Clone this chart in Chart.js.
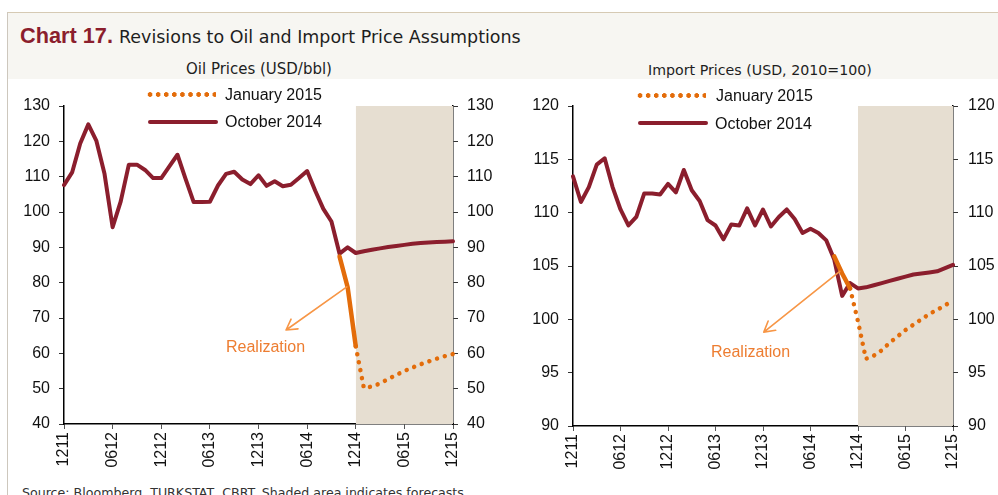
<!DOCTYPE html>
<html><head><meta charset="utf-8">
<script src="https://cdn.jsdelivr.net/npm/chart.js@4.4.1/dist/chart.umd.min.js"></script>
<style>
html,body{margin:0;padding:0;background:#fff;width:998px;height:495px;overflow:hidden;position:relative;font-family:"Liberation Sans",Arial,sans-serif;}
.abs{position:absolute;white-space:nowrap;}
#band{left:7px;top:12px;width:991px;height:67px;background:#f7f6f2;border-top:1px solid #d6cab4;box-sizing:border-box;}
#vline{left:7px;top:12px;width:1px;height:483px;background:#cdc7bd;}
.cg{font-family:"DejaVu Sans",sans-serif;color:#1e1e1e;display:inline-block;}
.leg{font-size:16px;color:#111;line-height:18px;}
.real{font-size:16px;color:#ED7D31;line-height:18px;}
.solid{height:4px;border-radius:2px;background:#8B1E2D;}
.dots{height:5px;background:radial-gradient(circle,#E36C0A 2.1px,rgba(227,108,10,0) 2.6px) 0 0/8.1px 5px repeat-x;}
canvas{position:absolute;}
</style></head>
<body>
<div id="band" class="abs"></div>
<div id="vline" class="abs"></div>
<div class="abs" style="left:20px;top:24px;line-height:24px;">
  <span id="t1" style="font-weight:bold;font-size:21px;color:#8B1E2D;display:inline-block;" data-fit="93">Chart 17.</span><span id="t2" class="cg" style="font-size:17px;margin-left:6px;" data-fit="402">Revisions to Oil and Import Price Assumptions</span>
</div>
<div class="abs cg" id="s1" style="left:186px;top:60px;font-size:14px;line-height:18px;" data-fit="146">Oil Prices (USD/bbl)</div>
<div class="abs cg" id="s2" style="left:648px;top:61px;font-size:14px;line-height:18px;" data-fit="224">Import Prices (USD, 2010=100)</div>

<canvas id="oil" width="492" height="400" style="left:8px;top:80px;"></canvas>
<canvas id="imp" width="488" height="400" style="left:510px;top:80px;"></canvas>

<!-- legends -->
<div class="abs dots" style="left:146px;top:92px;width:70px;"></div>
<div class="abs leg" style="left:225px;top:86px;" id="l1a"></div>
<div class="abs solid" style="left:148px;top:120px;width:70px;"></div>
<div class="abs leg" style="left:225px;top:113px;" id="l1b"></div>

<div class="abs dots" style="left:636px;top:93px;width:70px;"></div>
<div class="abs leg" style="left:716px;top:87px;" id="l2a"></div>
<div class="abs solid" style="left:638px;top:121px;width:70px;"></div>
<div class="abs leg" style="left:715px;top:115px;" id="l2b"></div>

<div class="abs real" style="left:226px;top:338px;">Realization</div>
<div class="abs real" style="left:711px;top:343px;">Realization</div>

<div class="abs cg" id="src" style="left:22px;top:485px;font-size:13px;line-height:16px;color:#333;" data-fit="446">Source: Bloomberg, TURKSTAT, CBRT. Shaded area indicates forecasts.</div>

<script>
// ---------------- DATA ----------------
const months = ["1211","0112","0212","0312","0412","0512","0612","0712","0812","0912","1012","1112",
  "1212","0113","0213","0313","0413","0513","0613","0713","0813","0913","1013","1113",
  "1213","0114","0214","0314","0414","0514","0614","0714","0814","0914","1014","1114",
  "1214","0115","0215","0315","0415","0515","0615","0715","0815","0915","1015","1115","1215"];
const tickLabels = ["1211","0612","1212","0613","1213","0614","1214","0615","1215"];
const forecastStart = "1214";
const seriesNames = ["January 2015","October 2014","Realization"];

// Oil prices (USD/bbl)
const oilOct2014 = [107.6,111.2,119.4,124.8,120.1,110.8,95.7,103.0,113.4,113.4,111.9,109.6,
  109.6,112.9,116.2,109.4,102.8,102.8,102.9,107.5,110.8,111.4,109.2,107.9,
  110.4,107.4,108.7,107.3,107.7,109.6,111.6,106.0,100.9,97.3,88.2,90.0,
  88.4,88.9,89.3,89.7,90.1,90.4,90.7,91.0,91.2,91.4,91.5,91.6,91.7];
const oilRealization = [null,null,null,null,null,null,null,null,null,null,null,null,
  null,null,null,null,null,null,null,null,null,null,null,null,
  null,null,null,null,null,null,null,null,null,null,87.4,78.7,
  62.0,null,null,null,null,null,null,null,null,null,null,null,null];
const oilJan2015 = [null,null,null,null,null,null,null,null,null,null,null,null,
  null,null,null,null,null,null,null,null,null,null,null,null,
  null,null,null,null,null,null,null,null,null,null,null,null,
  62.0,50.2,50.6,51.5,52.7,53.9,55.0,56.0,56.9,57.7,58.5,59.2,59.8];
const oilAxis = {min:40, max:130, step:10};

// Import prices (USD, 2010=100)
const impOct2014 = [113.4,111.0,112.4,114.5,115.1,112.4,110.3,108.8,109.6,111.8,111.8,111.7,
  112.7,111.9,114.0,112.1,111.1,109.3,108.8,107.5,108.9,108.8,110.4,108.8,
  110.3,108.7,109.6,110.3,109.4,108.1,108.5,108.1,107.4,105.6,102.2,103.4,
  102.9,103.0,103.2,103.4,103.6,103.8,104.0,104.2,104.3,104.4,104.5,104.8,105.1];
const impRealization = [null,null,null,null,null,null,null,null,null,null,null,null,
  null,null,null,null,null,null,null,null,null,null,null,null,
  null,null,null,null,null,null,null,null,null,105.9,104.3,102.9,
  null,null,null,null,null,null,null,null,null,null,null,null,null];
const impJan2015 = [null,null,null,null,null,null,null,null,null,null,null,null,
  null,null,null,null,null,null,null,null,null,null,null,null,
  null,null,null,null,null,null,null,null,null,null,null,102.9,
  99.8,96.3,96.6,97.1,97.8,98.4,99.0,99.5,100.0,100.5,100.9,101.3,101.8];
const impAxis = {min:90, max:120, step:5};

// arrow annotations (month index, value)
const oilArrow = {from:[34.9,78.8], to:[27.4,66.6]};
const impArrow = {from:[33.7,104.5], to:[24.1,98.8]};

// ---------------- TEXT ----------------
document.getElementById('l1a').textContent = seriesNames[0];
document.getElementById('l1b').textContent = seriesNames[1];
document.getElementById('l2a').textContent = seriesNames[0];
document.getElementById('l2b').textContent = seriesNames[1];
document.querySelectorAll('[data-fit]').forEach(el=>{
  const target = parseFloat(el.dataset.fit);
  const fs = parseFloat(getComputedStyle(el).fontSize);
  const w = el.getBoundingClientRect().width;
  el.style.fontSize = (fs*target/w).toFixed(2)+'px';
});

// ---------------- CHARTS ----------------
const DARK = '#8B1E2D', ORANGE = '#E36C0A', SHADE = '#E6DED1', ARROW = '#F79646';

function arrowPlugin(a){
  return {id:'arrowAnno', afterDatasetsDraw(chart){
    const xs = chart.scales.x, ys = chart.scales.y, ctx = chart.ctx;
    const x1 = xs.getPixelForValue(a.from[0]), y1 = ys.getPixelForValue(a.from[1]);
    const x2 = xs.getPixelForValue(a.to[0]), y2 = ys.getPixelForValue(a.to[1]);
    const ang = Math.atan2(y2-y1, x2-x1), L = 12, sp = Math.PI/6;
    ctx.save();
    ctx.strokeStyle = ARROW; ctx.lineWidth = 1.6; ctx.lineCap='round'; ctx.lineJoin='round';
    ctx.beginPath(); ctx.moveTo(x1,y1); ctx.lineTo(x2,y2);
    ctx.moveTo(x2 - L*Math.cos(ang-sp), y2 - L*Math.sin(ang-sp));
    ctx.lineTo(x2,y2);
    ctx.lineTo(x2 - L*Math.cos(ang+sp), y2 - L*Math.sin(ang+sp));
    ctx.stroke(); ctx.restore();
  }};
}

function makeChart(id, oct, real, jan, axis, arrow, dims){
  const fIdx = months.indexOf(forecastStart);
  const shade = months.map((m,i)=> i>=fIdx ? axis.max : null);
  const yCommon = (pos, w, pad) => ({
    type:'linear', position:pos, min:axis.min, max:axis.max, z:1,
    ticks:{stepSize:axis.step, padding:pad, color:'#111', font:{family:'"Liberation Sans", Arial', size:16}},
    grid:{drawOnChartArea:false, drawTicks:true, tickLength:5, color:'#333', lineWidth:1},
    border:{display:true, color:'#000', width:1.5},
    afterFit(s){ s.width = w; }
  });
  return new Chart(document.getElementById(id), {
    type:'line',
    data:{labels:months, datasets:[
      {label:seriesNames[2], data:real, borderColor:ORANGE, borderWidth:4.5, pointRadius:0,
       borderCapStyle:'round', borderJoinStyle:'round', order:0, fill:false},
      {label:seriesNames[0], data:jan, borderColor:ORANGE, borderWidth:4.5, pointRadius:0,
       borderDash:[0.01,8.1], borderCapStyle:'round', order:1, fill:false},
      {label:seriesNames[1], data:oct, borderColor:DARK, borderWidth:4, pointRadius:0,
       borderCapStyle:'round', borderJoinStyle:'round', order:2, fill:false},
      {label:'forecast', data:shade, borderWidth:0, borderColor:'rgba(0,0,0,0)', backgroundColor:SHADE,
       pointRadius:0, fill:'start', order:3}
    ]},
    options:{
      responsive:false, animation:false, devicePixelRatio:1,
      layout:{padding:{top:dims.top, left:0, right:0, bottom:0}},
      plugins:{legend:{display:false}, tooltip:{enabled:false}},
      elements:{line:{tension:0}},
      scales:{
        x:{type:'category', offset:false, z:1,
          ticks:{autoSkip:false, maxRotation:90, minRotation:90, padding:3, color:'#111',
            font:{family:'"Liberation Sans", Arial', size:16},
            callback(v,i){ const l = months[i]; return tickLabels.includes(l) ? l : null; }},
          grid:{drawOnChartArea:false, drawTicks:true, tickLength:5, color:'#555', lineWidth:1},
          border:{display:true, color:'#000', width:1.5},
          afterFit(s){ s.height = dims.xh; }},
        y:yCommon('left', dims.yl, dims.pl),
        y2:yCommon('right', dims.yr, dims.pr)
      }
    },
    plugins:[arrowPlugin(arrow)]
  });
}

makeChart('oil', oilOct2014, oilRealization, oilJan2015, oilAxis, oilArrow,
  {top:26, xh:56, yl:56, yr:47, pl:9, pr:9});
makeChart('imp', impOct2014, impRealization, impJan2015, impAxis, impArrow,
  {top:26, xh:54, yl:63, yr:45, pl:9, pr:10});
</script>
</body></html>
